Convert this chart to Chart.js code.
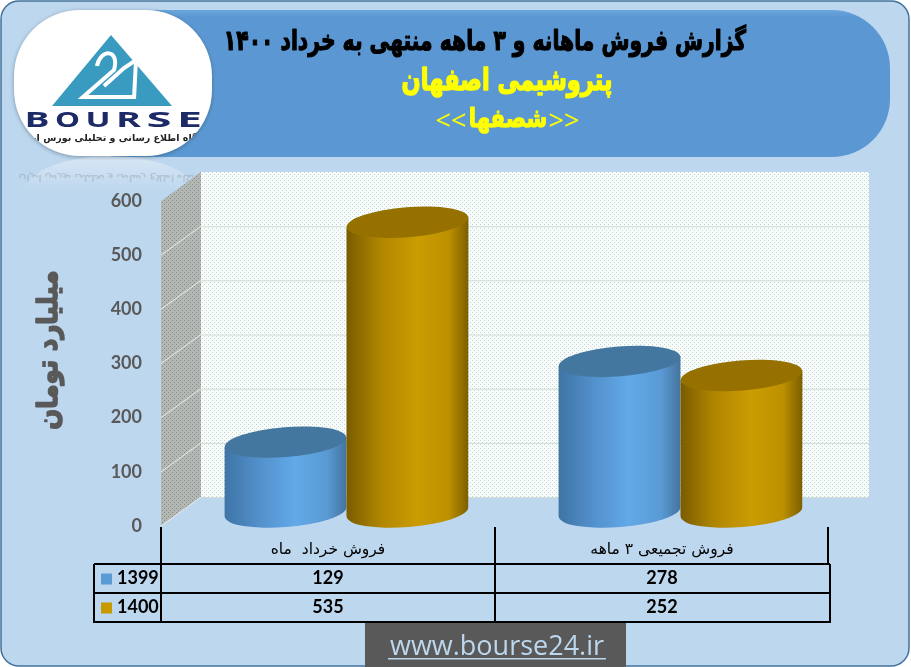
<!DOCTYPE html>
<html>
<head>
<meta charset="utf-8">
<title>bourse24</title>
<script src="https://cdn.jsdelivr.net/npm/chart.js@4/dist/chart.umd.min.js"></script>
<style>
    html, body { margin: 0; padding: 0; background: #fff; }
    canvas { display: block; }
</style>
</head>
<body>
<canvas id="chart" width="911" height="667"></canvas>
<script>
// chart data
const categories = ['فروش خرداد  ماه', 'فروش تجمیعی ۳ ماهه'];
const seriesNames = ['1399', '1400'];
const sales1399 = [129, 278];
const sales1400 = [535, 252];
const seriesColors = ['#5B9BD5', '#C89A00'];
const axisTitle = 'میلیارد تومان';
const titleLines = ['گزارش فروش ماهانه و ۳ ماهه منتهی به خرداد ۱۴۰۰', 'پتروشیمی اصفهان', 'شصفها'];
const siteName = 'www.bourse24.ir';

const persianFont = '"DejaVu Sans"';
const latinFont = '"Open Sans"';
const numberFont = 'Lato';
const depth = { x: 40, y: 29 }; // offset of the back wall from the axis plane

function roundRect(ctx, x, y, w, h, r) {
    ctx.beginPath();
    ctx.roundRect(x, y, w, h, r);
}

// small dotted tile for the walls
function dotPattern(ctx, bg, dot) {
    let tile = document.createElement('canvas');
    tile.width = 4; tile.height = 4;
    let t = tile.getContext('2d');
    t.fillStyle = bg; t.fillRect(0, 0, 4, 4);
    t.fillStyle = dot;
    t.fillRect(0, 0, 1, 1);
    t.fillRect(2, 2, 1, 1);
    return ctx.createPattern(tile, 'repeat');
}

// the original font is a very heavy one: squeeze the text and stroke it
function heavyText(ctx, text, x, y, squeeze, weight) {
    ctx.save();
    ctx.translate(x, y);
    ctx.scale(squeeze, 1);
    ctx.lineWidth = weight;
    ctx.lineJoin = 'round';
    ctx.strokeStyle = ctx.fillStyle;
    ctx.fillText(text, 0, 0);
    ctx.strokeText(text, 0, 0);
    ctx.restore();
}

function drawLogo(ctx) {
    ctx.save();
    // reflection under the logo
    let refl = ctx.createLinearGradient(0, 157, 0, 192);
    refl.addColorStop(0, 'rgba(255,255,255,.4)');
    refl.addColorStop(1, 'rgba(255,255,255,0)');
    ctx.fillStyle = refl;
    ctx.beginPath();
    ctx.ellipse(110, 198, 90, 42, 0, Math.PI, 0);
    ctx.fill();
    ctx.save();
    ctx.translate(0, 2 * 157);
    ctx.scale(1, -1);
    ctx.globalAlpha = .15;
    ctx.fillStyle = '#333';
    ctx.font = 'bold 9px ' + persianFont;
    ctx.textAlign = 'center';
    ctx.fillText('پایگاه اطلاع رسانی و تحلیلی بورس ایران', 110, 139);
    ctx.restore();

    ctx.shadowColor = 'rgba(40,60,80,.45)';
    ctx.shadowBlur = 4;
    ctx.shadowOffsetY = 1;
    ctx.fillStyle = '#fff';
    roundRect(ctx, 14, 10, 198, 146, 66);
    ctx.fill();
    ctx.restore();

    ctx.save();
    roundRect(ctx, 14, 10, 198, 146, 66);
    ctx.clip();
    // triangle mark, points
    ctx.fillStyle = '#3A9BC1';
    ctx.beginPath();
    ctx.moveTo(111, 35); ctx.lineTo(172, 106); ctx.lineTo(52, 106);
    ctx.closePath();
    ctx.fill();
    ctx.strokeStyle = '#fff';
    ctx.lineWidth = 4;
    ctx.beginPath();
    ctx.moveTo(97, 66);
    ctx.bezierCurveTo(100, 49, 120, 48, 114, 70);
    ctx.lineTo(83, 97); ctx.lineTo(134, 97);
    ctx.stroke();
    ctx.beginPath();
    ctx.moveTo(104, 86); ctx.lineTo(124, 68); ctx.lineTo(136, 60); ctx.lineTo(134, 99);
    ctx.stroke();

    ctx.fillStyle = '#1C2A66';
    ctx.textAlign = 'center';
    ctx.textBaseline = 'alphabetic';
    ctx.font = 'bold 21px ' + latinFont;
    Array.from('BOURSE').forEach((ch, i) => { // stretched wide letters
        ctx.save();
        ctx.translate(37 + i * 30.5, 127);
        ctx.scale(25 / ctx.measureText(ch).width, 1);
        ctx.fillText(ch, 0, 0);
        ctx.restore();
    });
    ctx.fillStyle = '#222';
    ctx.font = 'bold 9.5px ' + persianFont;
    ctx.fillText('پایگاه اطلاع رسانی و تحلیلی بورس ایران', 112, 141);
    ctx.restore();
}

const background = {
    id: 'background',
    beforeDraw(chart) {
        let ctx = chart.ctx, area = chart.chartArea;
        ctx.save();
        // panel
        ctx.fillStyle = '#BDD7EE';
        ctx.strokeStyle = '#41719C';
        ctx.lineWidth = 1.5;
        roundRect(ctx, 1, 1, 908, 665, 18);
        ctx.fill(); ctx.stroke();

        // banner
        let grad = ctx.createLinearGradient(0, 10, 0, 157);
        grad.addColorStop(0, '#6AA6DC');
        grad.addColorStop(.05, '#5B98D3');
        grad.addColorStop(1, '#5B98D3');
        ctx.fillStyle = grad;
        roundRect(ctx, 60, 10, 830, 147, 58);
        ctx.fill();
        drawLogo(ctx);

        // banner text
        ctx.textAlign = 'center';
        ctx.textBaseline = 'alphabetic';
        ctx.fillStyle = '#000';
        ctx.font = 'bold 28px ' + persianFont;
        heavyText(ctx, titleLines[0], 485, 50, .725, 1.2);
        ctx.fillStyle = '#FFFF00';
        ctx.font = 'bold 30px ' + persianFont;
        heavyText(ctx, titleLines[1], 507, 90, .75, 1.4);
        ctx.font = 'bold 26px ' + persianFont;
        heavyText(ctx, titleLines[2], 508, 127, .81, 1.2);
        ctx.font = '27px ' + latinFont;
        ctx.fillText('<<', 451, 130);
        ctx.fillText('>>', 564, 130);

        // walls
        let right = area.right + depth.x, left = area.left + depth.x;
        let top = area.top - depth.y, floor = area.bottom - depth.y;
        ctx.fillStyle = dotPattern(ctx, '#F8FCFB', '#BFD5D2');
        ctx.fillRect(left, top, right - left, floor - top);
        ctx.fillStyle = dotPattern(ctx, '#B4B8B4', '#858C88');
        ctx.beginPath();
        ctx.moveTo(area.left, area.top); ctx.lineTo(left, top);
        ctx.lineTo(left, floor); ctx.lineTo(area.left, area.bottom);
        ctx.closePath();
        ctx.fill();

        // gridlines run along the side wall and across the back wall
        let y = chart.scales.y;
        ctx.lineWidth = 1;
        y.ticks.forEach(t => {
            let py = y.getPixelForValue(t.value);
            if (t.value === 600) return;
            ctx.strokeStyle = '#E8EEEA';
            ctx.beginPath();
            ctx.moveTo(area.left, py); ctx.lineTo(left, py - depth.y);
            ctx.stroke();
            ctx.strokeStyle = '#D2DCD4';
            ctx.beginPath();
            ctx.moveTo(left, py - depth.y + .5); ctx.lineTo(right, py - depth.y + .5);
            ctx.stroke();
        });

        // axis title
        ctx.save();
        ctx.translate(50, 350);
        ctx.rotate(-Math.PI / 2);
        ctx.fillStyle = '#595959';
        ctx.textBaseline = 'middle';
        ctx.font = 'bold 28px ' + persianFont;
        heavyText(ctx, axisTitle, 0, 0, .875, 1.6);
        ctx.restore();

        // site box
        ctx.fillStyle = '#595959';
        ctx.fillRect(365, 622, 261, 45);
        ctx.fillStyle = '#BDD7EE';
        ctx.textBaseline = 'alphabetic';
        ctx.font = '27px ' + latinFont;
        ctx.fillText(siteName, 497, 655);
        ctx.fillRect(388, 658, 218, 1.5);
        ctx.restore();
    }
};

// the bars are painted as cylinders from the bar elements of the chart
const cylinders = {
    id: 'cylinders',
    beforeDatasetDraw() { return false; },
    beforeDatasetsDraw(chart) {
        let ctx = chart.ctx;
        const shades = [
            { stops: ['#3F74A6', '#5290CB', '#62A9E8', '#5A9AD4', '#44749F'], top: '#44779F' },
            { stops: ['#7A5C00', '#B08600', '#CB9C02', '#BC9000', '#7C5E00'], top: '#967100' },
        ];
        const ry = 15, tilt = -.08;
        chart.data.datasets.forEach((ds, i) => {
            chart.getDatasetMeta(i).data.forEach(bar => {
                let cx = bar.x + 18.5, rx = bar.width / 2;
                let yTop = bar.y - 14, yBase = bar.base - 14;
                let dy = rx * Math.sin(tilt);
                let s = shades[i];
                let grad = ctx.createLinearGradient(cx - rx, 0, cx + rx, 0);
                [0, .28, .58, .84, 1].forEach((at, k) => grad.addColorStop(at, s.stops[k]));
                ctx.save();
                ctx.fillStyle = grad;
                ctx.beginPath();
                ctx.moveTo(cx - rx, yTop - dy);
                ctx.lineTo(cx - rx, yBase - dy);
                ctx.ellipse(cx, yBase, rx, ry, tilt, Math.PI, 0, true);
                ctx.lineTo(cx + rx, yTop + dy);
                ctx.closePath();
                ctx.fill();
                ctx.fillStyle = s.top;
                ctx.beginPath();
                ctx.ellipse(cx, yTop, rx, ry, tilt, 0, Math.PI * 2);
                ctx.fill();
                ctx.restore();
            });
        });
    }
};

// data table under the axis, with the legend keys
const dataTable = {
    id: 'dataTable',
    afterDraw(chart) {
        let ctx = chart.ctx, area = chart.chartArea, x = chart.scales.x;
        let mid = (x.getPixelForValue(0) + x.getPixelForValue(1)) / 2;
        let rows = [564, 593, 622], tableLeft = 94, tableRight = 830;
        ctx.save();
        ctx.strokeStyle = '#000';
        ctx.lineWidth = 2;
        ctx.beginPath();
        rows.forEach(r => { ctx.moveTo(tableLeft, r); ctx.lineTo(tableRight, r); });
        ctx.moveTo(tableLeft, rows[0]); ctx.lineTo(tableLeft, rows[2] + 1);
        ctx.moveTo(tableRight, rows[0]); ctx.lineTo(tableRight, rows[2] + 1);
        [area.left, mid, area.right - 1].forEach((vx, i) => {
            ctx.moveTo(vx, area.bottom + 1);
            ctx.lineTo(vx, i === 2 ? rows[0] : rows[2]);
        });
        ctx.stroke();

        ctx.textBaseline = 'middle';
        ctx.font = 'bold 18px ' + numberFont;
        chart.data.datasets.forEach((ds, i) => {
            let cy = (rows[i] + rows[i + 1]) / 2;
            ctx.fillStyle = ds.backgroundColor;
            ctx.fillRect(101, cy - 5, 11, 11);
            ctx.fillStyle = '#000';
            ctx.textAlign = 'left';
            ctx.fillText(ds.label, 117, cy);
            ctx.textAlign = 'center';
            ds.data.forEach((v, k) => ctx.fillText(v, x.getPixelForValue(k), cy));
        });
        ctx.restore();
    }
};

new Chart(document.getElementById('chart'), {
    type: 'bar',
    data: {
        labels: categories,
        datasets: [
            { label: seriesNames[0], data: sales1399, backgroundColor: seriesColors[0] },
            { label: seriesNames[1], data: sales1400, backgroundColor: seriesColors[1] },
        ]
    },
    plugins: [background, cylinders, dataTable],
    options: {
        responsive: false,
        animation: false,
        events: [],
        categoryPercentage: .73,
        barPercentage: 1,
        layout: { padding: { left: 30, right: 82, top: 201, bottom: 0 } },
        plugins: {
            legend: { display: false },
            tooltip: { enabled: false },
        },
        scales: {
            x: {
                grid: { display: false, drawTicks: false },
                border: { display: false },
                ticks: {
                    color: '#000', padding: 15, maxRotation: 0,
                    font: { family: persianFont, size: 15.5 },
                },
                afterFit: scale => { scale.height = 141; },
            },
            y: {
                min: 0, max: 600,
                grid: { display: false, drawTicks: false },
                border: { display: false },
                ticks: {
                    stepSize: 100, color: '#595959', padding: 19,
                    font: { family: numberFont, size: 18, weight: 'bold' },
                },
                afterFit: scale => { scale.width = 131; },
            },
        },
    },
});
</script>
</body>
</html>
